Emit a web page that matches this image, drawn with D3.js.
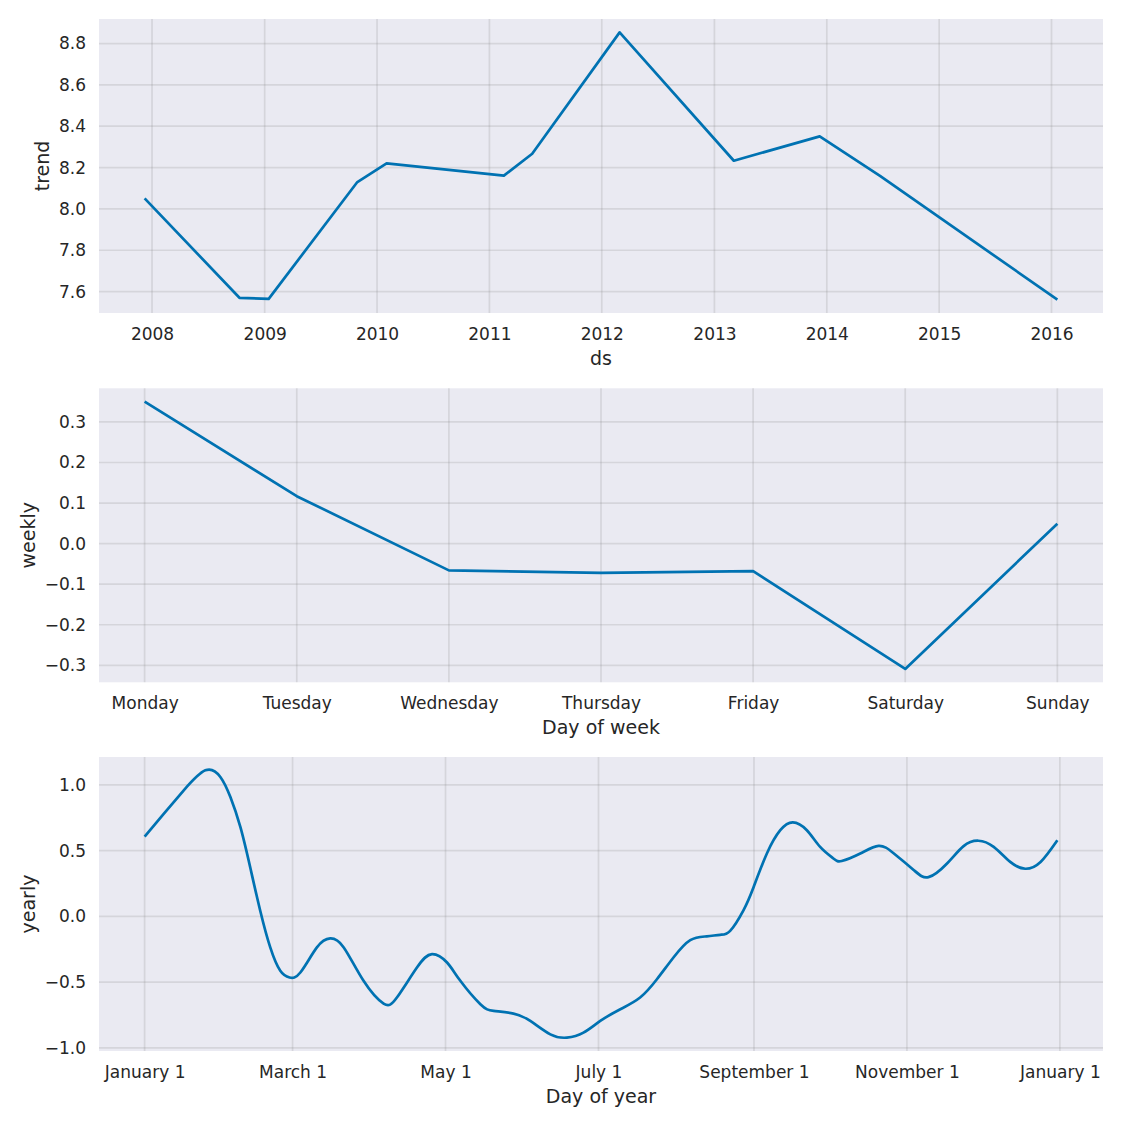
<!DOCTYPE html>
<html>
<head>
<meta charset="utf-8">
<script src="https://cdn.jsdelivr.net/npm/d3@7"></script>
<style>
  html, body { margin: 0; padding: 0; background: #ffffff; }
  svg { display: block; }
  text { font-family: "DejaVu Sans", sans-serif; fill: #262626; }
</style>
</head>
<body>
<svg id="chart" width="1125" height="1125"></svg>
<script>
// ---------------- DATA ----------------
// Trend component
const trendDates = ["2007-12-08", "2008-10-11", "2009-01-14", "2009-10-29", "2010-02-01",
  "2011-02-17", "2011-05-20", "2012-02-28", "2013-03-05", "2013-12-09", "2014-06-24", "2016-01-20"];
const trendValues = [8.051, 7.570, 7.565, 8.130, 8.220, 8.161, 8.267, 8.854, 8.233, 8.351, 8.158, 7.561];
const trendTickYears = [2008, 2009, 2010, 2011, 2012, 2013, 2014, 2015, 2016];
const trendTickValues = [7.6, 7.8, 8.0, 8.2, 8.4, 8.6, 8.8];

// Weekly component
const weekDays = ["Monday", "Tuesday", "Wednesday", "Thursday", "Friday", "Saturday", "Sunday"];
const weeklyValues = [0.350, 0.117, -0.066, -0.072, -0.068, -0.309, 0.049];
const weeklyTickValues = [-0.3, -0.2, -0.1, 0.0, 0.1, 0.2, 0.3];

// Yearly component (day offset from January 1, value)
const yearlyDays = [0, 7.6, 15.6, 24.2, 30.2, 34.2, 38.2, 42.1, 46.1, 50.1, 54.1, 57.8, 62.1, 68.7,
  74.0, 79.4, 87.3, 95.3, 100.6, 108.6, 114.6, 120.6, 125.9, 133.9, 139.2, 147.1, 153.8, 161.8,
  168.4, 175.0, 181.7, 189.7, 197.6, 204.3, 210.9, 217.6, 224.2, 229.5, 233.5, 238.8, 242.8,
  248.2, 253.5, 258.5, 264.1, 269.4, 274.7, 278.0, 285.4, 292.7, 298.8, 306.8, 312.6, 320.0,
  326.6, 332.5, 338.6, 345.2, 351.2, 357.3, 364];
const yearlyValues = [0.607, 0.780, 0.958, 1.110, 1.060, 0.907, 0.678, 0.373, 0.043, -0.236, -0.414,
  -0.465, -0.427, -0.236, -0.168, -0.236, -0.490, -0.663, -0.617, -0.389, -0.287, -0.351, -0.490,
  -0.668, -0.719, -0.739, -0.795, -0.897, -0.922, -0.884, -0.795, -0.706, -0.617, -0.478, -0.313,
  -0.181, -0.152, -0.140, -0.110, 0.046, 0.220, 0.480, 0.655, 0.715, 0.655, 0.528, 0.440, 0.421,
  0.478, 0.536, 0.478, 0.351, 0.298, 0.402, 0.534, 0.575, 0.528, 0.414, 0.362, 0.414, 0.579];
const yearlyTickDates = ["2017-01-01", "2017-03-01", "2017-05-01", "2017-07-01", "2017-09-01", "2017-11-01", "2018-01-01"];
const yearlyTickLabels = ["January 1", "March 1", "May 1", "July 1", "September 1", "November 1", "January 1"];
const yearlyTickValues = [-1.0, -0.5, 0.0, 0.5, 1.0];

// ---------------- LAYOUT ----------------
const svg = d3.select("#chart");
const plotLeft = 99, plotWidth = 1004, plotHeight = 294;
const panelTops = [19, 388.3, 757];
const lineColor = "#0072B2";
const bgColor = "#EAEAF2";
const tickFont = 17, labelFont = 19;

const parseUTC = s => { const [y, m, d] = s.split("-").map(Number); return new Date(Date.UTC(y, m - 1, d)); };
const pad = ext => { const r = ext[1] - ext[0]; return [ext[0] - 0.05 * r, ext[1] + 0.05 * r]; };
const padTime = ext => { const r = ext[1] - ext[0]; return [new Date(+ext[0] - 0.05 * r), new Date(+ext[1] + 0.05 * r)]; };
const fmtNum = d => d3.format(".1f")(d).replace("-", "\u2212");

function panel(top, x, y, xTicks, xTickFmt, yTicks, yTickFmt, xLabel, yLabel, data, curve) {
  const g = svg.append("g").attr("transform", `translate(${plotLeft},${top})`);
  g.append("rect").attr("width", plotWidth).attr("height", plotHeight).attr("fill", bgColor);

  // grid
  g.append("g").selectAll("line").data(xTicks).join("line")
    .attr("x1", d => x(d)).attr("x2", d => x(d)).attr("y1", 0).attr("y2", plotHeight)
    .attr("stroke", "gray").attr("stroke-opacity", 0.2).attr("stroke-width", 1.7);
  g.append("g").selectAll("line").data(yTicks).join("line")
    .attr("y1", d => y(d)).attr("y2", d => y(d)).attr("x1", 0).attr("x2", plotWidth)
    .attr("stroke", "gray").attr("stroke-opacity", 0.2).attr("stroke-width", 1.7);

  // axes
  const xa = g.append("g").attr("transform", `translate(0,${plotHeight})`)
    .call(d3.axisBottom(x).tickValues(xTicks).tickFormat(xTickFmt).tickSize(0).tickPadding(14.6));
  xa.select(".domain").remove();
  xa.selectAll("text").attr("font-size", tickFont).attr("font-family", "DejaVu Sans").attr("fill", "#262626");

  const ya = g.append("g")
    .call(d3.axisLeft(y).tickValues(yTicks).tickFormat(yTickFmt).tickSize(0).tickPadding(13));
  ya.select(".domain").remove();
  ya.selectAll("text").attr("font-size", tickFont).attr("font-family", "DejaVu Sans").attr("fill", "#262626");

  // line
  g.append("path").datum(data)
    .attr("fill", "none").attr("stroke", lineColor).attr("stroke-width", 2.7)
    .attr("stroke-linejoin", "round").attr("stroke-linecap", "butt")
    .attr("d", d3.line().x(d => x(d[0])).y(d => y(d[1])).curve(curve));

  // labels
  g.append("text").attr("x", plotWidth / 2).attr("y", plotHeight + 51.7)
    .attr("text-anchor", "middle").attr("font-size", labelFont).text(xLabel);

  let minX = 0;
  ya.selectAll("text").each(function () { const b = this.getBBox(); minX = Math.min(minX, b.x); });
  const lx = minX - 9.5;
  g.append("text").attr("transform", `translate(${lx},${plotHeight / 2}) rotate(-90)`)
    .attr("text-anchor", "middle").attr("font-size", labelFont).text(yLabel);
}

// Trend panel
{
  const dates = trendDates.map(parseUTC);
  const x = d3.scaleUtc().domain(padTime(d3.extent(dates))).range([0, plotWidth]);
  const y = d3.scaleLinear().domain(pad(d3.extent(trendValues))).range([plotHeight, 0]);
  const ticks = trendTickYears.map(yr => new Date(Date.UTC(yr, 0, 1)));
  panel(panelTops[0], x, y, ticks, d3.utcFormat("%Y"), trendTickValues, fmtNum, "ds", "trend",
    dates.map((d, i) => [d, trendValues[i]]), d3.curveLinear);
}

// Weekly panel
{
  const idx = weekDays.map((_, i) => i);
  const x = d3.scaleLinear().domain(pad([0, weekDays.length - 1])).range([0, plotWidth]);
  const y = d3.scaleLinear().domain(pad(d3.extent(weeklyValues))).range([plotHeight, 0]);
  panel(panelTops[1], x, y, idx, i => weekDays[i], weeklyTickValues, fmtNum, "Day of week", "weekly",
    idx.map(i => [i, weeklyValues[i]]), d3.curveLinear);
}

// Yearly panel
{
  const start = Date.UTC(2017, 0, 1);
  const dates = yearlyDays.map(d => new Date(start + d * 86400000));
  const x = d3.scaleUtc().domain(padTime(d3.extent(dates))).range([0, plotWidth]);
  const y = d3.scaleLinear().domain(pad(d3.extent(yearlyValues))).range([plotHeight, 0]);
  const ticks = yearlyTickDates.map(parseUTC);
  panel(panelTops[2], x, y, ticks, (d, i) => yearlyTickLabels[i], yearlyTickValues, fmtNum,
    "Day of year", "yearly", dates.map((d, i) => [d, yearlyValues[i]]), d3.curveNatural);
}
</script>
</body>
</html>
